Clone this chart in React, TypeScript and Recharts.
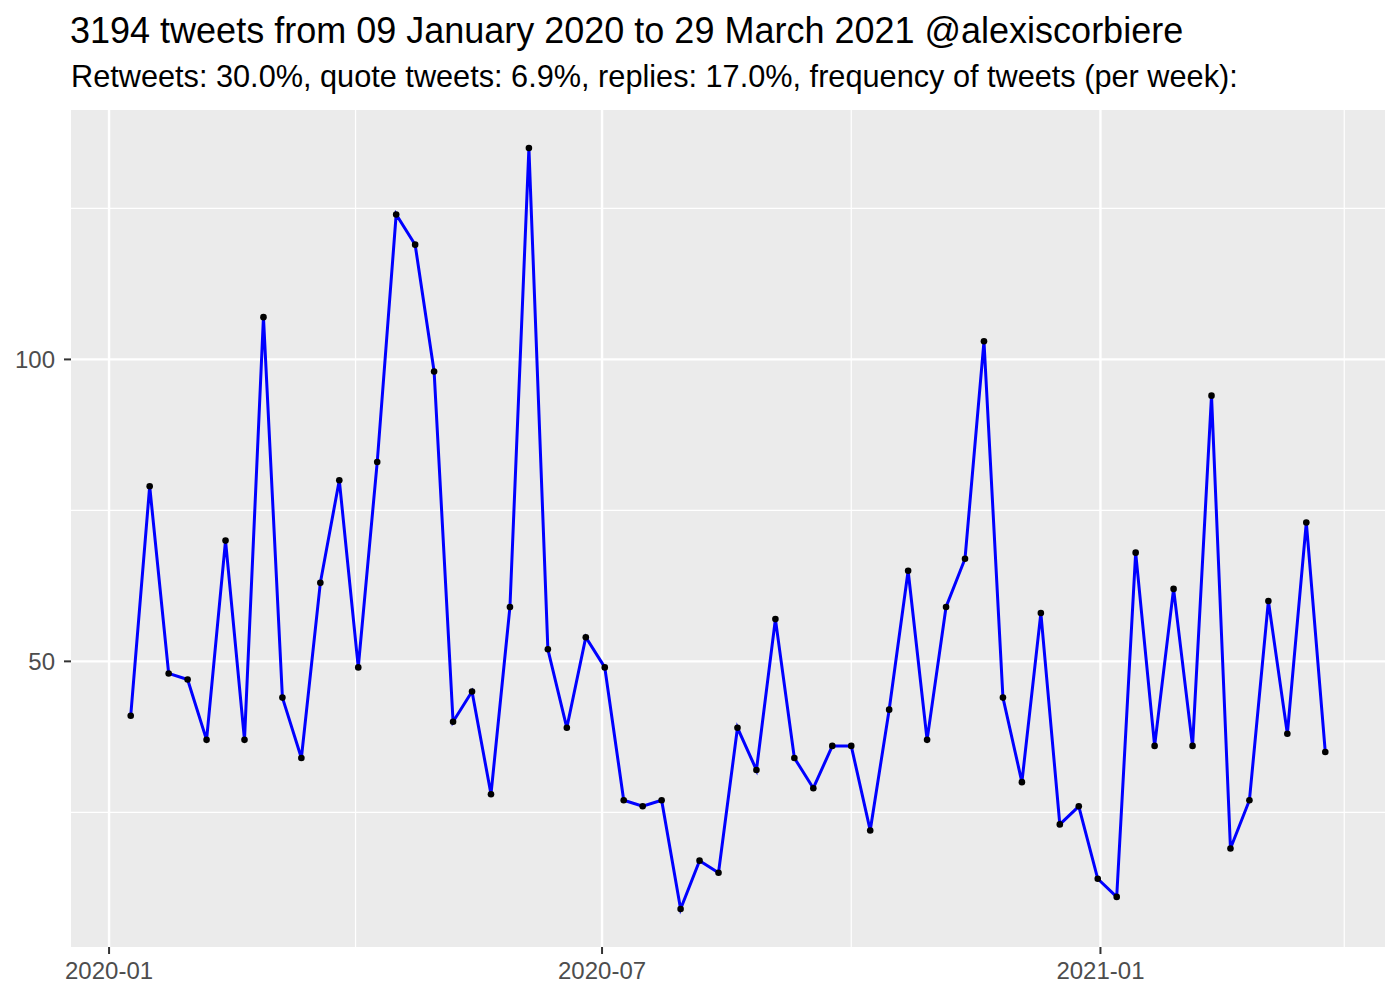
import React from 'react';
import {
  ComposedChart,
  Line,
  XAxis,
  YAxis,
  CartesianGrid,
} from 'recharts';

// weekly tweet counts, first week starting 09 Jan 2020
const firstWeek = Date.UTC(2020, 0, 9);
const weekMs = 7 * 24 * 3600 * 1000;
const tweetsPerWeek = [
  41, 79, 48, 47, 37, 70, 37, 107, 44, 34,
  63, 80, 49, 83, 124, 119, 98, 40, 45, 28,
  59, 135, 52, 39, 54, 49, 27, 26, 27, 9,
  17, 15, 39, 32, 57, 34, 29, 36, 36, 22,
  42, 65, 37, 59, 67, 103, 44, 30, 58, 23,
  26, 14, 11, 68, 36, 62, 36, 94, 19, 27,
  60, 38, 73, 35,
];

const xMajor = [Date.UTC(2020, 0, 1), Date.UTC(2020, 6, 1), Date.UTC(2021, 0, 1)];
const xMinor = [Date.UTC(2020, 3, 1), Date.UTC(2020, 9, 1), Date.UTC(2021, 3, 1)];
const yMajor = [50, 100];
const yMinor = [25, 75, 125];

const title = '3194 tweets from 09 January 2020 to 29 March 2021 @alexiscorbiere';
const subtitle =
  'Retweets: 30.0%, quote tweets: 6.9%, replies: 17.0%, frequency of tweets (per week):';

const data = tweetsPerWeek.map((n, i) => ({ week: firstWeek + i * weekMs, n }));

// ggplot-style 5% expansion
const expand = (lo: number, hi: number): [number, number] => {
  const pad = (hi - lo) * 0.05;
  return [lo - pad, hi + pad];
};
const xDomain = expand(data[0].week, data[data.length - 1].week);
const yDomain = expand(Math.min(...tweetsPerWeek), Math.max(...tweetsPerWeek));

const FONT = '"Liberation Sans", Arial, Helvetica, sans-serif';

const fmtMonth = (t: number) => {
  const d = new Date(t);
  return `${d.getUTCFullYear()}-${String(d.getUTCMonth() + 1).padStart(2, '0')}`;
};

const XTick = ({ x, y, payload }: any) => (
  <text x={x} y={y} dy="0.71em" textAnchor="middle" fill="#4D4D4D" fontSize={24} fontFamily={FONT}>
    {fmtMonth(payload.value)}
  </text>
);

const YTick = ({ x, y, payload }: any) => (
  <text x={x} y={y} dy="0.36em" textAnchor="end" fill="#4D4D4D" fontSize={24} fontFamily={FONT}>
    {payload.value}
  </text>
);

export default function App() {
  return (
    <div style={{ position: 'absolute', left: 0, top: 0, width: 1400, height: 1000, background: '#fff', fontFamily: FONT }}>
      <div style={{ position: 'absolute', left: 70, top: 12.5, fontSize: 36, lineHeight: '36px', color: '#000', whiteSpace: 'nowrap' }}>
        {title}
      </div>
      <div style={{ position: 'absolute', left: 71, top: 62, fontSize: 30.7, lineHeight: '30.7px', color: '#000', whiteSpace: 'nowrap' }}>
        {subtitle}
      </div>
      <ComposedChart
        width={1400}
        height={1000}
        data={data}
        margin={{ top: 110, right: 15, bottom: 0, left: 0 }}
      >
        <CartesianGrid
          fill="#EBEBEB"
          stroke="#FFFFFF"
          strokeWidth={1.2}
          horizontalValues={yMinor}
          verticalValues={xMinor}
        />
        <CartesianGrid
          fill="none"
          stroke="#FFFFFF"
          strokeWidth={2.4}
          horizontalValues={yMajor}
          verticalValues={xMajor}
        />
        <XAxis
          dataKey="week"
          type="number"
          domain={xDomain}
          ticks={xMajor}
          allowDataOverflow
          height={53}
          axisLine={false}
          tickSize={7}
          tickMargin={8}
          tickLine={{ stroke: '#333333', strokeWidth: 2 }}
          tick={<XTick />}
          interval={0}
        />
        <YAxis
          type="number"
          domain={yDomain}
          ticks={yMajor}
          allowDataOverflow
          width={71}
          axisLine={false}
          tickSize={7}
          tickMargin={9}
          tickLine={{ stroke: '#333333', strokeWidth: 2 }}
          tick={<YTick />}
          interval={0}
        />
        <Line
          dataKey="n"
          stroke="none"
          isAnimationActive={false}
          dot={{ r: 3.3, fill: '#000000', stroke: 'none' }}
          activeDot={false}
        />
        <Line
          dataKey="n"
          type="linear"
          stroke="#0000FF"
          strokeWidth={3}
          isAnimationActive={false}
          dot={false}
          activeDot={false}
        />
      </ComposedChart>
    </div>
  );
}
